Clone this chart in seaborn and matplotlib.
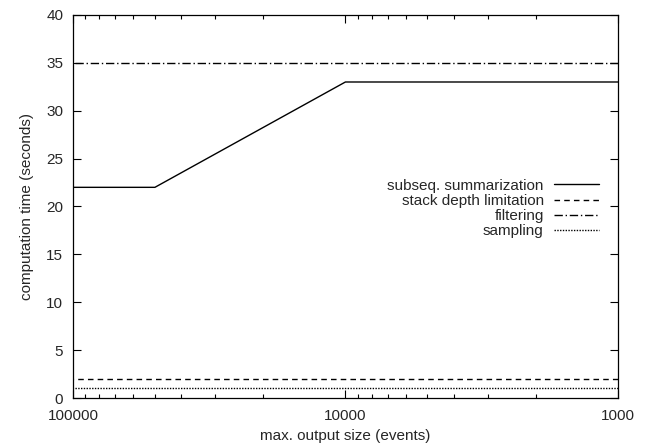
import matplotlib
matplotlib.use("Agg")
import matplotlib.pyplot as plt
import matplotlib.ticker as mticker
import seaborn as sns
import pandas as pd

# data
output_size = [100000, 50000, 10000, 1000]
subseq_summarization = [22, 22, 33, 33]
flat_x = [100000, 1000]
stack_depth = [2, 2]
filtering = [35, 35]
sampling = [1, 1]

x_ticks = [100000, 10000, 1000]
x_ticklabels = ["100000", "10000", "1000"]
y_ticks = [0, 5, 10, 15, 20, 25, 30, 35, 40]

sns.set_style("ticks")
plt.rcParams['font.family'] = ['Liberation Sans', 'DejaVu Sans']

fig = plt.figure(figsize=(6.45, 4.48), dpi=100)
ax = fig.add_axes([0.113, 0.1116, 0.845, 0.855])

series = [
    ("subseq. summarization", output_size, subseq_summarization, "-"),
    ("stack depth limitation", flat_x, stack_depth, (0, (4, 3))),
    ("filtering", flat_x, filtering, (0, (6, 2, 1, 2))),
    ("sampling", flat_x, sampling, (0, (1, 1))),
]
for label, xs, ys, ls in series:
    df = pd.DataFrame({"x": xs, "y": ys})
    sns.lineplot(data=df, x="x", y="y", ax=ax, color="black", linewidth=1,
                 linestyle=ls, label=label)

ax.set_xscale("log")
ax.set_xlim(100000, 1000)
ax.set_ylim(0, 40)
ax.xaxis.set_major_locator(mticker.FixedLocator(x_ticks))
ax.set_xticklabels(x_ticklabels)
ax.xaxis.set_minor_locator(mticker.LogLocator(base=10, subs=range(2, 10)))
ax.xaxis.set_minor_formatter(mticker.NullFormatter())
ax.set_yticks(y_ticks)

ax.tick_params(which="both", direction="in", top=True, right=True, labelsize=11,
               color="black", width=0.8)
ax.tick_params(which="major", length=6)
ax.tick_params(axis="x", which="major", pad=8)
ax.tick_params(axis="y", which="major", pad=7)
ax.tick_params(which="minor", length=3)
for s in ax.spines.values():
    s.set_linewidth(0.9)
    s.set_color("black")

ax.set_xlabel("max. output size (events)", fontsize=11, labelpad=4)
ax.set_ylabel("computation time (seconds)", fontsize=11, labelpad=9)

ax.legend(loc="center right", bbox_to_anchor=(0.99, 0.495), frameon=False,
          markerfirst=False, fontsize=11, handlelength=2.9, labelspacing=0.07,
          handletextpad=0.7)

fig.savefig("out.png", dpi=100)
